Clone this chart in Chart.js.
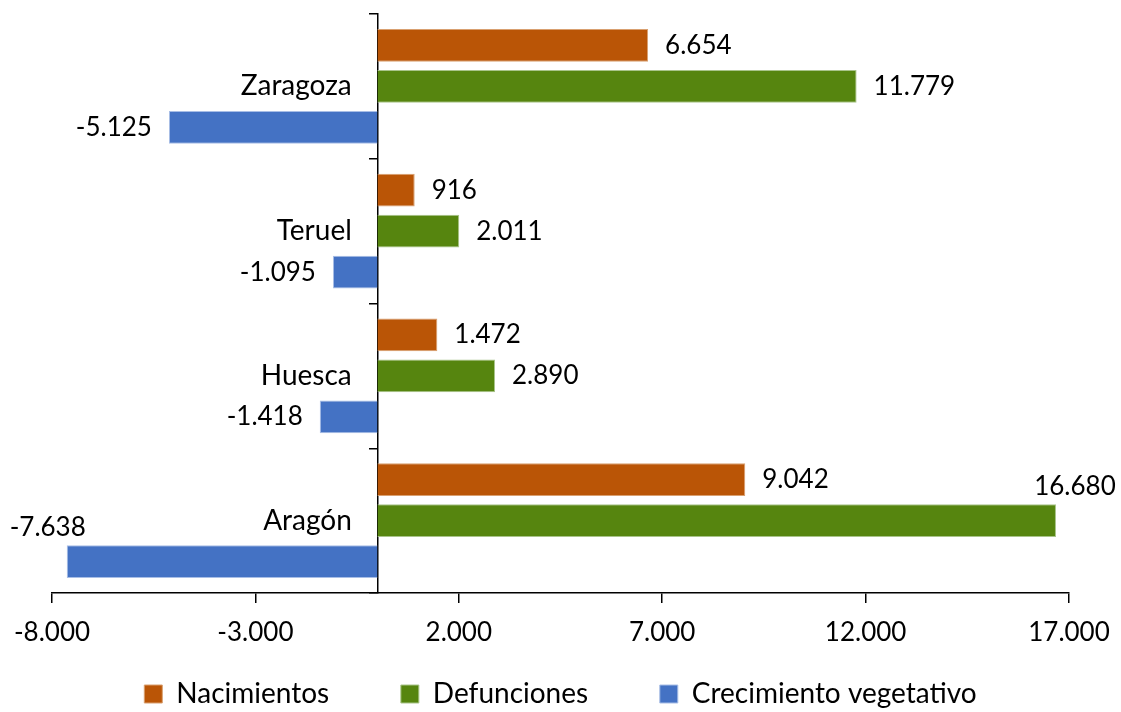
<!DOCTYPE html>
<html>
<head>
<meta charset="utf-8">
<script src="https://cdn.jsdelivr.net/npm/chart.js@4.4.0/dist/chart.umd.min.js"></script>
<style>
  html, body { margin: 0; padding: 0; background: #fff; }
  #wrap { width: 1121px; height: 712px; }
</style>
</head>
<body>
<div id="wrap"><canvas id="myChart"></canvas></div>
<script>
const provincias = ["Zaragoza", "Teruel", "Huesca", "Aragón"];
const nacimientos = [6654, 916, 1472, 9042];
const defunciones = [11779, 2011, 2890, 16680];
const crecimiento = [-5125, -1095, -1418, -7638];
const xTicks = [-8000, -3000, 2000, 7000, 12000, 17000];

const FONT = "Lato";

// 6654 -> "6.654", -1095 -> "-1.095"
function formatNumber(v) {
    const s = Math.abs(Math.round(v)).toString().replace(/\B(?=(\d{3})+(?!\d))/g, ".");
    return (v < 0 ? "-" : "") + s;
}

// value labels at the end of each bar
const barLabels = {
    id: "barLabels",
    afterDatasetsDraw(chart) {
        const ctx = chart.ctx;
        ctx.save();
        ctx.font = "26px " + FONT;
        ctx.fillStyle = "#000";
        ctx.textBaseline = "middle";
        chart.data.datasets.forEach((ds, i) => {
            chart.getDatasetMeta(i).data.forEach((bar, j) => {
                const v = ds.data[j];
                const text = formatNumber(v);
                const w = ctx.measureText(text).width;
                const gap = 17;
                if (v >= 0) {
                    if (bar.x + gap + w > chart.width) {
                        // no room on the right: put it above the bar end
                        ctx.textAlign = "center";
                        ctx.fillText(text, bar.x + 19, bar.y - 34);
                    } else {
                        ctx.textAlign = "left";
                        ctx.fillText(text, bar.x + gap, bar.y);
                    }
                } else {
                    if (bar.x - gap - w < 0) {
                        ctx.textAlign = "center";
                        ctx.fillText(text, bar.x - 19, bar.y - 34);
                    } else {
                        ctx.textAlign = "right";
                        ctx.fillText(text, bar.x - gap, bar.y);
                    }
                }
            });
        });
        ctx.restore();
    }
};

const ctx = document.getElementById("myChart").getContext("2d");
const myChart = new Chart(ctx, {
    type: "bar",
    data: {
        labels: provincias,
        datasets: [
            {
                label: "Nacimientos",
                data: nacimientos,
                backgroundColor: "#BA5506",
                borderColor: "#D9A070",
                borderWidth: 1
            },
            {
                label: "Defunciones",
                data: defunciones,
                backgroundColor: "#56850F",
                borderColor: "#A9C48A",
                borderWidth: 1
            },
            {
                label: "Crecimiento vegetativo",
                data: crecimiento,
                backgroundColor: "#4472C4",
                borderColor: "#A8BEE6",
                borderWidth: 1
            }
        ]
    },
    options: {
        indexAxis: "y",
        responsive: true,
        maintainAspectRatio: false,
        animation: false,
        categoryPercentage: 0.85,
        barPercentage: 0.8,
        layout: {
            padding: { left: 52, right: 52, top: 14, bottom: -6 }
        },
        scales: {
            x: {
                type: "linear",
                min: -8000,
                max: 17000,
                afterBuildTicks: (scale) => {
                    scale.ticks = xTicks.map(v => ({ value: v }));
                },
                // plot bottom at 593, whatever the legend takes
                afterFit: (s) => {
                    s.paddingLeft = 0;
                    s.paddingRight = 0;
                    s.height = s.chart.height + 6 - s.chart.legend.height - 593;
                },
                ticks: {
                    callback: (v) => formatNumber(v),
                    font: { family: FONT, size: 26 },
                    color: "#000",
                    padding: 14,
                    maxRotation: 0
                },
                grid: {
                    drawOnChartArea: false,
                    tickLength: 10,
                    color: "#000",
                    lineWidth: 1.5
                },
                border: { color: "#000", width: 1.5 }
            },
            y: {
                type: "category",
                position: { x: 0 },
                afterFit: (s) => {
                    s.paddingTop = 0;
                    s.paddingBottom = 0;
                },
                ticks: {
                    // labels sit a bit left of the zero line
                    callback: function(v) { return this.getLabelForValue(v) + "\u2003\u2006"; },
                    font: { family: FONT, size: 28 },
                    color: "#000",
                    padding: 0
                },
                grid: {
                    offset: true,
                    drawOnChartArea: false,
                    tickLength: 8,
                    color: "#000",
                    lineWidth: 1.5
                },
                border: { color: "#000", width: 1.5 }
            }
        },
        plugins: {
            legend: {
                position: "bottom",
                labels: {
                    boxWidth: 18,
                    boxHeight: 18,
                    padding: 18,
                    color: "#000",
                    font: { family: FONT, size: 28 },
                    // wider gaps between the entries
                    generateLabels: (chart) => {
                        const items = Chart.defaults.plugins.legend.labels.generateLabels(chart);
                        items.forEach((it, i) => {
                            if (i < items.length - 1) it.text += "\u2003\u2003\u2005\u2006";
                        });
                        return items;
                    }
                }
            },
            tooltip: { enabled: false }
        }
    },
    plugins: [barLabels]
});
</script>
</body>
</html>
